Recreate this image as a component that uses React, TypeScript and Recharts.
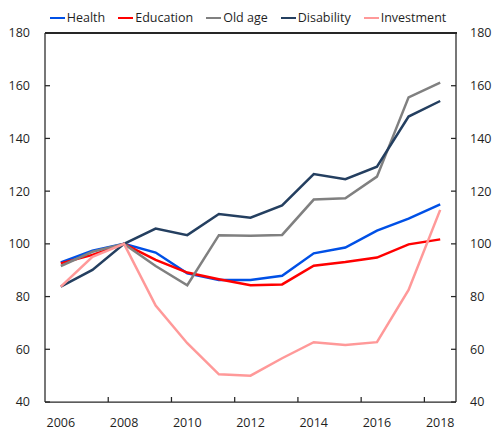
import React from 'react'
import { LineChart, Line, XAxis, YAxis } from 'recharts'

// ─── Data (index, 2008 = 100) ───────────────────────────────────────
const years = [2006, 2007, 2008, 2009, 2010, 2011, 2012, 2013, 2014, 2015, 2016, 2017, 2018]
const health = [93.0, 97.4, 100, 96.7, 88.8, 86.3, 86.3, 87.9, 96.4, 98.6, 105.0, 109.6, 115.0]
const education = [92.6, 95.8, 100, 93.9, 89.1, 86.6, 84.3, 84.6, 91.7, 93.1, 94.8, 99.8, 101.7]
const oldAge = [91.6, 97.0, 100, 91.6, 84.3, 103.3, 103.1, 103.4, 116.8, 117.3, 125.5, 155.6, 161.2]
const disability = [83.8, 90.1, 100, 105.8, 103.3, 111.3, 109.9, 114.6, 126.5, 124.5, 129.3, 148.3, 154.2]
const investment = [83.8, 95.1, 100, 76.6, 62.3, 50.5, 50.0, 56.6, 62.7, 61.6, 62.7, 82.5, 112.9]

const xLabelYears = [2006, 2008, 2010, 2012, 2014, 2016, 2018]
const yTicks = [40, 60, 80, 100, 120, 140, 160, 180]

// both y axes share the same scale; the last series is bound to the right one
// so that axis gets drawn
const series = [
  { key: 'health', name: 'Health', color: '#0050e6', values: health, y: 'left' },
  { key: 'education', name: 'Education', color: '#ff0000', values: education, y: 'left' },
  { key: 'oldAge', name: 'Old age', color: '#808080', values: oldAge, y: 'left' },
  { key: 'disability', name: 'Disability', color: '#243f60', values: disability, y: 'left' },
  { key: 'investment', name: 'Investment', color: '#ff9999', values: investment, y: 'right' },
]

const data = years.map((year, i) => {
  const row: Record<string, number> = { year }
  series.forEach(s => { row[s.key] = s.values[i] })
  return row
})

// tick marks sit on category boundaries, every second year
const xMarks = xLabelYears.slice(0, -1).map(y => y + 1.5)
const xTicks = [...xLabelYears, ...xMarks].sort((a, b) => a - b)
const xDomain = [years[0] - 0.5, years[years.length - 1] + 0.5]

const W = 492
const H = 432
const MARGIN_TOP = 33
const LEFT_W = 45
const RIGHT_W = 36

const AXIS = '#262626'
const FONT = '"Open Sans", sans-serif'
const textStyle = { fontFamily: FONT, fontSize: 12.5, fill: '#1f1f1f' }

function XTick({ x, y, payload }: any) {
  const v = payload.value
  if (Number.isInteger(v)) {
    return (
      <text x={x} y={y + 21} dy="0.35em" textAnchor="middle" {...textStyle}>
        {v}
      </text>
    )
  }
  return <line x1={x} x2={x} y1={y} y2={y - 5} stroke={AXIS} strokeWidth={1.25} />
}

function LeftTick({ x, y, payload }: any) {
  return (
    <g>
      <line x1={x} x2={x + 5} y1={y} y2={y} stroke={AXIS} strokeWidth={1.25} />
      <text x={x - 15} y={y} dy="0.35em" textAnchor="end" {...textStyle}>
        {payload.value}
      </text>
    </g>
  )
}

function RightTick({ x, y, payload }: any) {
  return (
    <g>
      <line x1={x} x2={x - 5} y1={y} y2={y} stroke={AXIS} strokeWidth={1.25} />
      <text x={x + 14} y={y} dy="0.35em" textAnchor="start" {...textStyle}>
        {payload.value}
      </text>
    </g>
  )
}

function ChartLegend() {
  return (
    <div
      style={{
        position: 'absolute', top: 9, left: 0, width: 496,
        display: 'flex', justifyContent: 'center', gap: 13,
        fontFamily: FONT, fontSize: 12.5, color: '#1f1f1f', lineHeight: '18px',
      }}
    >
      {series.map(s => (
        <div key={s.key} style={{ display: 'flex', alignItems: 'center' }}>
          <div style={{ width: 15, height: 2.5, background: s.color, marginRight: 2 }} />
          <span>{s.name}</span>
        </div>
      ))}
    </div>
  )
}

export default function App() {
  return (
    <div style={{ position: 'absolute', left: 0, top: 0, width: W, height: H, background: '#fff' }}>
      <ChartLegend />
      <LineChart width={W} height={H} data={data} margin={{ top: MARGIN_TOP, right: 0, bottom: 0, left: 0 }}>
        <XAxis
          dataKey="year"
          type="number"
          domain={xDomain}
          ticks={xTicks}
          interval={0}
          tickSize={0}
          tickMargin={0}
          tickLine={false}
          tick={<XTick />}
          height={30}
          axisLine={{ stroke: AXIS, strokeWidth: 1.25 }}
        />
        <YAxis
          yAxisId="left"
          domain={[40, 180]}
          ticks={yTicks}
          interval={0}
          width={LEFT_W}
          tickSize={0}
          tickMargin={0}
          tickLine={false}
          tick={<LeftTick />}
          axisLine={{ stroke: AXIS, strokeWidth: 1.25 }}
        />
        <YAxis
          yAxisId="right"
          orientation="right"
          domain={[40, 180]}
          ticks={yTicks}
          interval={0}
          width={RIGHT_W}
          tickSize={0}
          tickMargin={0}
          tickLine={false}
          tick={<RightTick />}
          axisLine={{ stroke: AXIS, strokeWidth: 1.25 }}
        />
        {series.map(s => (
          <Line
            key={s.key}
            yAxisId={s.y}
            type="linear"
            dataKey={s.key}
            name={s.name}
            stroke={s.color}
            strokeWidth={2.5}
            dot={false}
            activeDot={false}
            isAnimationActive={false}
          />
        ))}
      </LineChart>
      {/* top edge of the plot frame */}
      <div
        style={{
          position: 'absolute', left: LEFT_W - 0.5, top: MARGIN_TOP - 1, zIndex: 10,
          width: W - LEFT_W - RIGHT_W + 1, height: 2, background: AXIS,
          pointerEvents: 'none',
        }}
      />
    </div>
  )
}
